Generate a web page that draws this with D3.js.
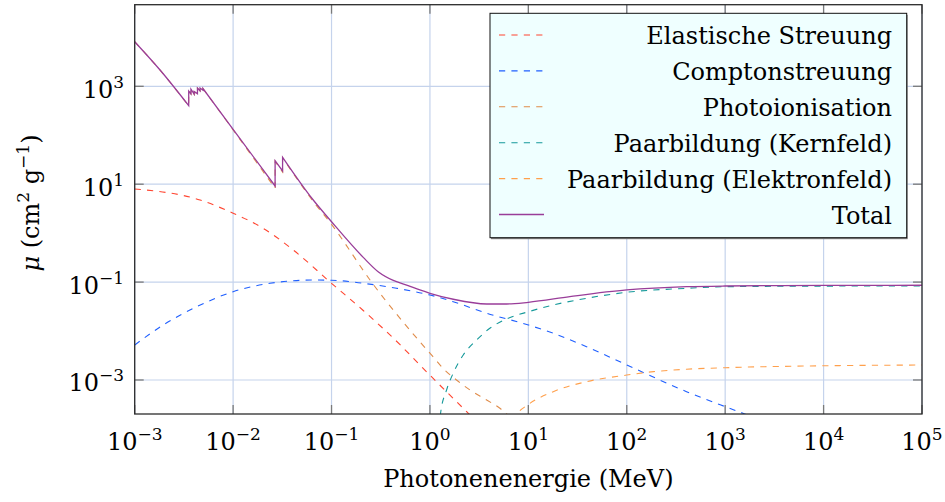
<!DOCTYPE html>
<html>
<head>
<meta charset="utf-8">
<script src="https://cdn.jsdelivr.net/npm/d3@7"></script>
<style>
body { margin: 0; background: #fff; }
svg text { font-family: "DejaVu Serif", serif; fill: #000; }
</style>
</head>
<body>
<svg id="chart" width="945" height="502"></svg>
<script>
// photon energy in MeV, mass attenuation in cm^2/g (CdTe)
var elasticE  = [0.001, 0.00462, 0.01, 0.0202, 0.0408, 0.1, 0.21, 0.5, 0.79, 2.36, 3.98];
var elasticMu = [7.98, 4.75, 2.55, 1.256, 0.453, 0.0944, 0.0263, 0.00519, 0.00202, 0.000225, 0.000079];

var comptonE  = [0.001, 0.00195, 0.00427, 0.01, 0.0237, 0.0652, 0.1, 0.21, 0.458, 1, 1.726, 3.77, 10, 17.9, 39, 100, 405, 1000, 1580, 10000];
var comptonMu = [0.00519, 0.0133, 0.0314, 0.0637, 0.0944, 0.110, 0.109, 0.0944, 0.0746, 0.0545, 0.0398, 0.0231, 0.0133, 0.009, 0.00479, 0.00203, 0.000577, 0.000285, 0.000202, 0.000038];

var photoE  = [0.001, 0.00181, 0.003538, 0.003539, 0.003727, 0.003728, 0.004018, 0.004019, 0.004341, 0.004342, 0.004612, 0.004613, 0.004939, 0.00494, 0.01, 0.02671, 0.02672, 0.03181, 0.03182, 0.0652, 0.1, 0.255, 0.786, 1.074, 1.36, 1.86, 2.55, 3.77, 5.14, 6.01, 10];
var photoMu = [8140, 2145, 398, 796, 696, 866, 686, 776, 696, 916, 806, 916, 826, 896, 129, 8.24, 29.3, 17.7, 34.6, 4.44, 1.51, 0.1, 0.00612, 0.00299, 0.00173, 0.001, 0.000625, 0.00039, 0.000264, 0.000202, 0.000085];

var kernE  = [1.15, 1.28, 1.476, 1.722, 2.18, 2.98, 4.06, 6.24, 10, 17.9, 39, 100, 405, 1000, 10000, 100000];
var kernMu = [0.00001, 0.000202, 0.000625, 0.00137, 0.00324, 0.00656, 0.01138, 0.0182, 0.0248, 0.034, 0.0467, 0.0619, 0.0746, 0.0805, 0.0828, 0.0832];

var elekE  = [3.98, 7.64, 10, 17.9, 39, 100, 187, 405, 1000, 10000, 100000];
var elekMu = [0.00001, 0.000202, 0.000316, 0.000577, 0.000923, 0.00126, 0.00148, 0.00166, 0.00178, 0.00195, 0.00202];

var totalE  = [0.001, 0.00181, 0.003538, 0.003539, 0.003727, 0.003728, 0.004018, 0.004019, 0.004341, 0.004342, 0.004612, 0.004613, 0.004939, 0.00494, 0.01, 0.02671, 0.02672, 0.03181, 0.03182, 0.0652, 0.1, 0.21, 0.3, 0.424, 0.6, 0.79, 1, 1.726, 3.77, 6.01, 10, 26.4, 100, 405, 1000, 10000, 100000];
var totalMu = [8150, 2150, 402, 800, 700, 870, 690, 780, 700, 920, 810, 920, 830, 900, 132, 9.18, 30.2, 18.6, 35.5, 4.75, 1.71, 0.32, 0.161, 0.108, 0.0845, 0.069, 0.059, 0.0446, 0.0357, 0.0357, 0.0386, 0.0504, 0.069, 0.0805, 0.0832, 0.0855, 0.0861];

var seriesNames = ["Elastische Streuung", "Comptonstreuung", "Photoionisation", "Paarbildung (Kernfeld)", "Paarbildung (Elektronfeld)", "Total"];
var xTickExp = [-3, -2, -1, 0, 1, 2, 3, 4, 5];
var yTickExp = [-3, -1, 1, 3];

var series = [
    {name: seriesNames[0], e: elasticE, mu: elasticMu, color: "#ff4530", dash: true},
    {name: seriesNames[1], e: comptonE, mu: comptonMu, color: "#1f5fff", dash: true},
    {name: seriesNames[2], e: photoE, mu: photoMu, color: "#e08c4a", dash: true},
    {name: seriesNames[3], e: kernE, mu: kernMu, color: "#15999a", dash: true},
    {name: seriesNames[4], e: elekE, mu: elekMu, color: "#ffa04c", dash: true},
    {name: seriesNames[5], e: totalE, mu: totalMu, color: "#993d99", dash: false}
];

var L = 134.7, R = 922, T = 4.7, B = 414;
var svg = d3.select("#chart");

var x = d3.scaleLog().domain([1e-3, 1e5]).range([L, R]);
var y = d3.scaleLog().domain([Math.pow(10, -3.695), Math.pow(10, 4.667)]).range([B, T]);

svg.append("defs").append("clipPath").attr("id", "clip")
    .append("rect").attr("x", L).attr("y", T).attr("width", R - L).attr("height", B - T);

// grid
var grid = svg.append("g").attr("stroke", "#c5d3ec").attr("stroke-width", 1.2);
grid.selectAll(".gx").data(xTickExp).enter().append("line")
    .attr("x1", d => x(Math.pow(10, d))).attr("x2", d => x(Math.pow(10, d)))
    .attr("y1", T).attr("y2", B);
grid.selectAll(".gy").data(yTickExp).enter().append("line")
    .attr("y1", d => y(Math.pow(10, d))).attr("y2", d => y(Math.pow(10, d)))
    .attr("x1", L).attr("x2", R);

// curves; absorption edges (two energies almost equal) split the curve
// into smooth pieces joined by straight jumps
var line = d3.line()
    .x(d => x(d[0]))
    .y(d => y(d[1]))
    .curve(d3.curveMonotoneX);

function edgePath(pts) {
    var segs = [[pts[0]]];
    for (var i = 1; i < pts.length; i++) {
        if (pts[i][0] / pts[i - 1][0] < 1.001) segs.push([]);
        segs[segs.length - 1].push(pts[i]);
    }
    return segs.map((s, i) => i ? line(s).replace(/^M/, "L") : line(s)).join("");
}

var plot = svg.append("g").attr("clip-path", "url(#clip)");
series.forEach(function (s) {
    var pts = s.e.map((e, i) => [e, s.mu[i]]);
    plot.append("path")
        .attr("d", edgePath(pts))
        .attr("fill", "none")
        .attr("stroke", s.color)
        .attr("stroke-width", s.dash ? 1.1 : 1.3)
        .attr("stroke-dasharray", s.dash ? "6.2,6.2" : null);
});

// ticks on all four sides
var ticks = svg.append("g").attr("stroke", "#7a7a7a").attr("stroke-width", 1.3);
xTickExp.forEach(function (k) {
    var px = x(Math.pow(10, k));
    ticks.append("line").attr("x1", px).attr("x2", px).attr("y1", B).attr("y2", B - 9);
    ticks.append("line").attr("x1", px).attr("x2", px).attr("y1", T).attr("y2", T + 9);
});
yTickExp.forEach(function (k) {
    var py = y(Math.pow(10, k));
    ticks.append("line").attr("x1", L).attr("x2", L + 9).attr("y1", py).attr("y2", py);
    ticks.append("line").attr("x1", R).attr("x2", R - 9).attr("y1", py).attr("y2", py);
});

// frame
svg.append("rect").attr("x", L).attr("y", T).attr("width", R - L).attr("height", B - T)
    .attr("fill", "none").attr("stroke", "#2b2b2b").attr("stroke-width", 1.3);

function expLabel(sel, k) {
    sel.append("tspan").text("10");
    sel.append("tspan").attr("dy", -10).attr("font-size", 17)
        .text(k < 0 ? "\u2212" + (-k) : String(k));
}

// x tick labels
xTickExp.forEach(function (k) {
    var t = svg.append("text")
        .attr("x", x(Math.pow(10, k))).attr("y", 449.5)
        .attr("text-anchor", "middle").attr("font-size", 24);
    expLabel(t, k);
});

// y tick labels
yTickExp.forEach(function (k) {
    var t = svg.append("text")
        .attr("x", 124).attr("y", y(Math.pow(10, k)) + 11.5)
        .attr("text-anchor", "end").attr("font-size", 24);
    expLabel(t, k);
});

// axis labels
svg.append("text")
    .attr("x", (L + R) / 2).attr("y", 487)
    .attr("text-anchor", "middle").attr("font-size", 24)
    .text("Photonenenergie (MeV)");

var yl = svg.append("text")
    .attr("transform", "translate(39,203) rotate(-90)")
    .attr("text-anchor", "middle").attr("font-size", 24);
yl.append("tspan").attr("font-style", "italic").text("\u03bc");
yl.append("tspan").text(" (cm");
yl.append("tspan").attr("dy", -10).attr("font-size", 17).text("2");
yl.append("tspan").attr("dy", 10).text(" g");
yl.append("tspan").attr("dy", -10).attr("font-size", 17).text("\u22121");
yl.append("tspan").attr("dy", 10).text(")");

// legend
var lx0 = 490, ly0 = 13.3, lw = 416.7, lh = 224.4;
var leg = svg.append("g");
leg.append("rect").attr("x", lx0 + 1).attr("y", ly0 + 1.5).attr("width", lw).attr("height", lh)
    .attr("fill", "#808080");
leg.append("rect").attr("x", lx0).attr("y", ly0).attr("width", lw).attr("height", lh)
    .attr("fill", "#efffff").attr("stroke", "#111").attr("stroke-width", 1);

var rows = leg.selectAll(".row").data(series).enter().append("g")
    .attr("transform", (d, i) => "translate(0," + (35 + 35.9 * i) + ")");
rows.append("line")
    .attr("x1", 499).attr("x2", 544).attr("y1", 0).attr("y2", 0)
    .attr("stroke", d => d.color)
    .attr("stroke-width", d => d.dash ? 1.1 : 1.3)
    .attr("stroke-dasharray", d => d.dash ? "6.2,6.2" : null);
rows.append("text")
    .attr("x", 892).attr("y", 9)
    .attr("text-anchor", "end").attr("font-size", 24)
    .text(d => d.name);
</script>
</body>
</html>
